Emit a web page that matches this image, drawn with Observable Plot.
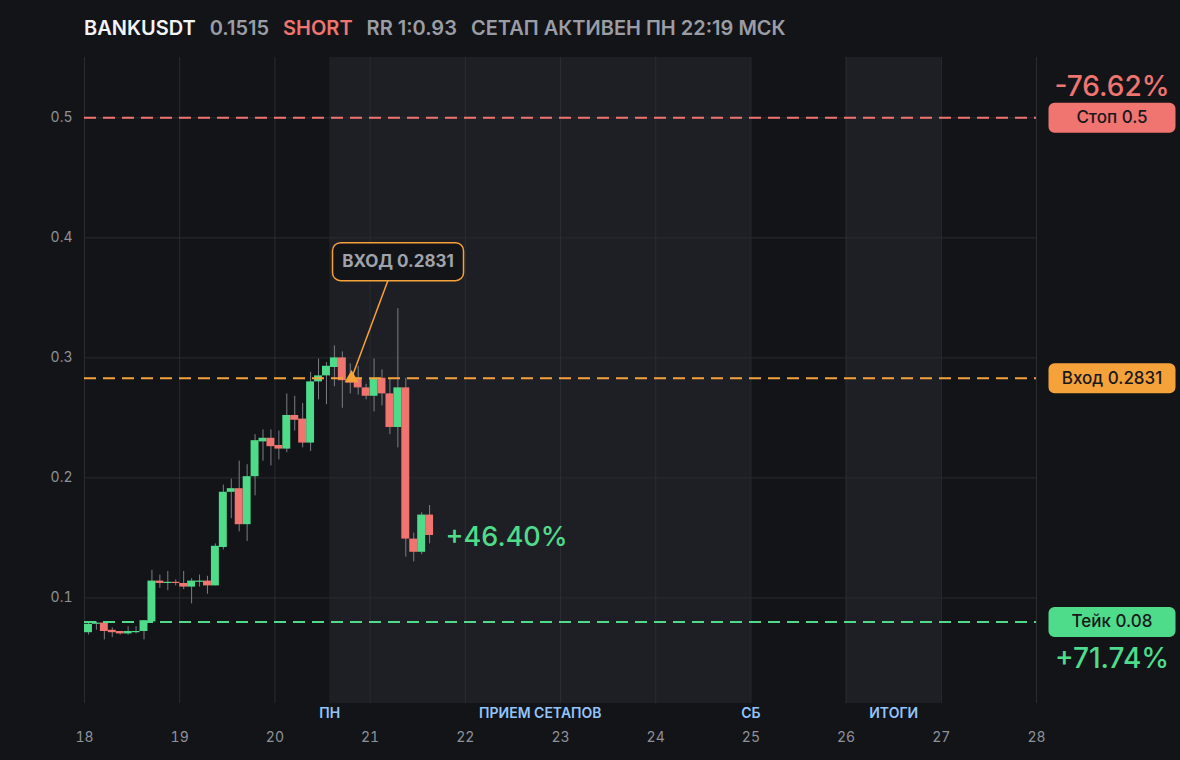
<!DOCTYPE html>
<html>
<head>
<meta charset="utf-8">
<script src="https://cdn.jsdelivr.net/npm/d3@7"></script>
<script src="https://cdn.jsdelivr.net/npm/@observablehq/plot@0.6"></script>
<style>
  html, body { margin: 0; padding: 0; background: #131418; }
  body { width: 1180px; height: 760px; overflow: hidden; font-family: Inter, "Noto Sans", sans-serif; }
  #title { height: 46px; box-sizing: border-box; padding: 14px 0 0 84px; line-height: 28px; font-size: 20px; font-weight: 600; white-space: nowrap; }
  #title span { margin-right: 14px; }
</style>
</head>
<body>
<div id="title"></div>
<div id="chart"></div>
<script>
// ---------- data ----------
const symbolName = "BANKUSDT";
const lastPrice = "0.1515";
const side = "SHORT";
const riskReward = "RR 1:0.93";
const setupStatus = "СЕТАП АКТИВЕН ПН 22:19 МСК";

// 2-hour candles starting on day 18
const candleStartDay = 18;
const candleStepDays = 1 / 12;
const candleOpen  = [0.071,0.078,0.079,0.073,0.072,0.070,0.071,0.072,0.080,0.114,0.112,0.113,0.112,0.109,0.113,0.114,0.110,0.142,0.188,0.191,0.161,0.201,0.230,0.233,0.227,0.224,0.252,0.249,0.229,0.280,0.285,0.292,0.300,0.281,0.283,0.275,0.268,0.283,0.270,0.242,0.275,0.149,0.138,0.169];
const candleHigh  = [0.080,0.080,0.079,0.075,0.072,0.076,0.076,0.081,0.123,0.119,0.122,0.115,0.122,0.116,0.119,0.118,0.145,0.194,0.199,0.214,0.211,0.236,0.240,0.240,0.239,0.270,0.268,0.262,0.288,0.299,0.296,0.310,0.305,0.295,0.293,0.278,0.299,0.290,0.282,0.341,0.283,0.154,0.171,0.177];
const candleLow   = [0.069,0.073,0.065,0.067,0.069,0.069,0.070,0.065,0.080,0.108,0.106,0.110,0.107,0.095,0.109,0.103,0.110,0.140,0.166,0.155,0.147,0.185,0.214,0.210,0.215,0.221,0.239,0.225,0.222,0.265,0.261,0.276,0.258,0.270,0.269,0.265,0.255,0.260,0.236,0.225,0.134,0.130,0.136,0.145];
const candleClose = [0.078,0.079,0.072,0.071,0.070,0.072,0.072,0.081,0.114,0.112,0.113,0.112,0.109,0.114,0.114,0.110,0.143,0.188,0.191,0.161,0.201,0.231,0.233,0.226,0.224,0.252,0.248,0.229,0.280,0.285,0.293,0.300,0.281,0.279,0.275,0.268,0.283,0.270,0.242,0.275,0.149,0.138,0.169,0.152];

// trade levels
const levelNames  = ["Стоп", "Вход", "Тейк"];
const levelPrices = [0.5, 0.2831, 0.08];
const levelColors = ["#f07470", "#f6a23a", "#4fdc8a"];
const levelPctTexts = ["-76.62%", null, "+71.74%"];

// entry marker
const entryDay = 20 + 19 / 24 + 19 / 1440;
const entryPrice = 0.2831;
const entryLabel = "ВХОД 0.2831";
const currentPctText = "+46.40%";

// shaded zones
const zoneStart = [20.575, 26];
const zoneEnd   = [25, 27];
const zoneLabels = ["ПН", "ПРИЕМ СЕТАПОВ", "СБ", "ИТОГИ"];
const zoneLabelDays = [20.575, 22.7875, 25, 26.5];

// axes ticks
const dayTicks = [18, 19, 20, 21, 22, 23, 24, 25, 26, 27, 28];
const priceTicks = [0.1, 0.2, 0.3, 0.4, 0.5];

// ---------- colors ----------
const UP = "#4fdc8a", DOWN = "#f07470", ORANGE = "#f6a23a";
const BG = "#131418", ZONE = "#1e1f24", GRID = "#2a2c31", MUTED = "#8f929a";

// ---------- title ----------
const titleParts = [
  [symbolName, "#f3f4f6"], [lastPrice, "#9a9da5"], [side, DOWN],
  [riskReward, "#9a9da5"], [setupStatus, "#9a9da5"]
];
const titleEl = document.getElementById("title");
titleParts.forEach(([t, c]) => {
  const s = document.createElement("span"); s.textContent = t; s.style.color = c; titleEl.appendChild(s);
});

// ---------- tables ----------
const candles = candleOpen.map((o, i) => ({
  t0: candleStartDay + i * candleStepDays,
  t1: candleStartDay + (i + 1) * candleStepDays,
  tm: candleStartDay + (i + 0.5) * candleStepDays,
  open: o, high: candleHigh[i], low: candleLow[i], close: candleClose[i],
  up: candleClose[i] >= o
}));
const levels = levelNames.map((n, i) => ({
  name: n, price: levelPrices[i], color: levelColors[i],
  label: n + " " + levelPrices[i], pct: levelPctTexts[i]
}));
const zones = zoneStart.map((s, i) => ({ x1: s, x2: zoneEnd[i] }));
const zoneText = zoneLabels.map((t, i) => ({ t, x: zoneLabelDays[i] }));
const last = candles[candles.length - 1];

// ---------- custom shapes ----------
function roundRect(w, h, r) {
  return {
    draw(ctx) {
      const x0 = -w / 2, y0 = -h / 2;
      ctx.moveTo(x0 + r, y0);
      ctx.lineTo(x0 + w - r, y0); ctx.arcTo(x0 + w, y0, x0 + w, y0 + r, r);
      ctx.lineTo(x0 + w, y0 + h - r); ctx.arcTo(x0 + w, y0 + h, x0 + w - r, y0 + h, r);
      ctx.lineTo(x0 + r, y0 + h); ctx.arcTo(x0, y0 + h, x0, y0 + h - r, r);
      ctx.lineTo(x0, y0 + r); ctx.arcTo(x0, y0, x0 + r, y0, r);
      ctx.closePath();
    }
  };
}
const pillShape = roundRect(127, 30, 6);
const calloutShape = roundRect(131, 38, 8);
const leaderShape = { draw(ctx) { ctx.moveTo(0, 0); ctx.lineTo(38, -102); } };

const calloutDx = 46.5, calloutDy = -116.5;
const pillDx = 75.5;

const chart = Plot.plot({
  width: 1180,
  height: 714,
  marginLeft: 84,
  marginRight: 144,
  marginTop: 11,
  marginBottom: 57,
  style: { background: BG, color: MUTED, fontFamily: "Inter, 'Noto Sans', sans-serif", fontSize: "14px", overflow: "visible" },
  x: { domain: [18, 28] },
  y: { domain: [0.012, 0.5503] },
  marks: [
    Plot.rect(zones, { x1: "x1", x2: "x2", fill: ZONE }),
    Plot.gridX(dayTicks, { stroke: GRID, strokeOpacity: 1 }),
    Plot.gridY(priceTicks, { stroke: GRID, strokeOpacity: 1 }),
    Plot.axisX(dayTicks, { tickSize: 0, tickPadding: 29, fill: MUTED, fontSize: 14, tickFormat: d => String(d) }),
    Plot.axisY(priceTicks, { tickSize: 0, tickPadding: 12, fill: MUTED, fontSize: 14, tickFormat: d => String(d) }),
    Plot.text(zoneText, { x: "x", frameAnchor: "bottom", dy: 14, text: "t", fill: "#93c5fd", fontSize: 14, fontWeight: 600 }),
    // candles
    Plot.ruleX(candles, { x: "tm", y1: "low", y2: "high", stroke: "#7b7e86", strokeWidth: 1 }),
    Plot.rect(candles.filter(d => d.up), { x1: "t0", x2: "t1", y1: "open", y2: "close", fill: UP }),
    Plot.rect(candles.filter(d => !d.up), { x1: "t0", x2: "t1", y1: "open", y2: "close", fill: DOWN }),
    // level lines
    Plot.ruleY(levels, { y: "price", stroke: "color", strokeWidth: 2, strokeDasharray: "12 7" }),
    // pills
    Plot.dot(levels, { y: "price", frameAnchor: "right", dx: pillDx, symbol: pillShape, fill: "color", stroke: "none" }),
    Plot.text(levels, { y: "price", frameAnchor: "right", textAnchor: "middle", dx: pillDx, text: "label", fill: "#17181c", fontSize: 17, fontWeight: 500 }),
    Plot.text(levels.filter(d => d.pct && d.price > entryPrice), { y: "price", frameAnchor: "right", textAnchor: "middle", dx: pillDx, dy: -31, text: "pct", fill: "color", fontSize: 28, fontWeight: 500 }),
    Plot.text(levels.filter(d => d.pct && d.price < entryPrice), { y: "price", frameAnchor: "right", textAnchor: "middle", dx: pillDx, dy: 37, text: "pct", fill: "color", fontSize: 28, fontWeight: 500 }),
    // entry callout
    Plot.dot([{ x: entryDay, y: entryPrice }], { x: "x", y: "y", symbol: leaderShape, fill: "none", stroke: ORANGE, strokeWidth: 1.5 }),
    Plot.dot([{ x: entryDay, y: entryPrice }], { x: "x", y: "y", dx: calloutDx, dy: calloutDy, symbol: calloutShape, fill: BG, stroke: ORANGE, strokeWidth: 1.5 }),
    Plot.text([{ x: entryDay, y: entryPrice }], { x: "x", y: "y", dx: calloutDx, dy: calloutDy, text: () => entryLabel, fill: "#a0a3ab", fontSize: 17, fontWeight: 700 }),
    Plot.dot([{ x: entryDay, y: entryPrice }], { x: "x", y: "y", symbol: "triangle", r: 5.2, fill: ORANGE, stroke: "none" }),
    // current pnl
    Plot.text([last], { x: "t1", y: "close", dx: 12, dy: 2, textAnchor: "start", text: () => currentPctText, fill: UP, fontSize: 27, fontWeight: 500 })
  ]
});
document.getElementById("chart").appendChild(chart);
</script>
</body>
</html>
